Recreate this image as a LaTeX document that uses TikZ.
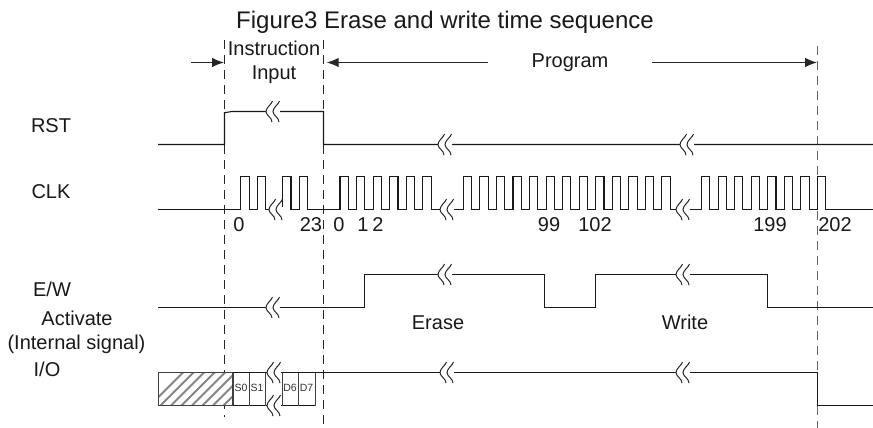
\documentclass[tikz,border=0pt]{standalone}
\usepackage{fontspec}
\setmainfont{Liberation Sans}
\usetikzlibrary{arrows.meta}
\tikzset{
  lab/.style={anchor=base,inner sep=0pt,font=\fontsize{20}{22}\selectfont,text=black!90},
  tiny/.style={anchor=base,inner sep=0pt,font=\fontsize{10.5}{12}\selectfont,text=black!80},
  wave/.style={line width=1.1pt,line join=miter,draw=black!90},
  guide/.style={line width=1.1pt,draw=black!85,dash pattern=on 9pt off 6pt},
  guideb/.style={line width=1.7pt,draw=black!60,dash pattern=on 9pt off 6pt},
  span/.style={line width=1.1pt,draw=black!85,-{Latex[length=12pt,width=9.5pt]}},
  squig/.style={line width=1pt,draw=black!85},
  cell/.style={line width=1.1pt,draw=black!75},
  hatch/.style={line width=1.8pt,draw=black!48}
}
\newcommand\brkmark[2]{%
  \fill[white] (#1-7,#2-3) rectangle (#1+7,#2+3);
  \foreach \o in {-3.5,3.5}
    \draw[squig] (#1+\o+3,#2-10.5) .. controls (#1+\o+2,#2-7) and (#1+\o-3.5,#2-4) .. (#1+\o-3.5,#2)
      .. controls (#1+\o-3.5,#2+4) and (#1+\o+2.5,#2+6) .. (#1+\o+2.5,#2+10.5);
}
\begin{document}
\begin{tikzpicture}[x=1pt,y=-1pt]
\useasboundingbox (0,0) rectangle (873,428);
\fill[white] (0,0) rectangle (873,428);

% guides
\coordinate (g1t) at (224.5,40); \coordinate (g1b) at (224.5,417);
\coordinate (g2t) at (323.5,40); \coordinate (g2b) at (323.5,428);
\coordinate (g3t) at (817.5,46); \coordinate (g3b) at (817.5,428);
\draw[guide] (g1t) -- (g1b);
\draw[guide] (g2t) -- (g2b);
\draw[guideb] (g3t) -- (g3b);

% RST
\draw[wave] (158,144.5) -- (224.5,144.5) -- (224.5,112.7) -- (232,111.5) -- (323.5,111.5) -- (323.5,144.5) -- (873,144.5);
\brkmark{273}{111.5}
\brkmark{445}{144.5}
\brkmark{687}{144.5}

% CLK
\draw[wave] (158,209.5)
  \foreach \s/\n in {240.8/2,282.7/2,340/6,463.3/13,701.5/8}{
    -- (\s,209.5)
    \foreach \k in {1,...,\n}{
      -- ({\s+16.55*(\k-1)},176.5) -- ({\s+16.55*(\k-1)+8.3},176.5) -- ({\s+16.55*(\k-1)+8.3},209.5) -- ({\s+16.55*\k},209.5)
    }
  } -- (873,209.5);
\brkmark{276}{209.5}
\brkmark{447}{209.5}
\brkmark{683}{209.5}

% E/W
\draw[wave] (158,307.5) -- (364.5,307.5) -- (364.5,274.5) -- (544.5,274.5) -- (544.5,307.5) -- (595.5,307.5)
  -- (595.5,274.5) -- (767.5,274.5) -- (767.5,307.5) -- (873,307.5);
\brkmark{273}{307.5}
\brkmark{445}{274.5}
\brkmark{683}{274.5}

% I/O
\begin{scope}
  \clip (158,372.5) rectangle (233,405.5);
  \fill[white] (158,372.5) rectangle (233,405.5);
  \foreach \i in {0,...,12}
    \draw[hatch] ({150+\i*10.5},405.5) -- ({150+\i*10.5+34},371.5);
\end{scope}
\draw[cell] (158.5,372.5) rectangle (233,405.5);
\draw[wave] (233,372.5) -- (817.5,372.5) -- (817.5,405.5) -- (873,405.5);
\draw[wave] (233,405.5) -- (315.5,405.5);
\foreach \x in {249.5,265.5,282.5,298.5,315.5}
  \draw[cell] (\x,372.5) -- (\x,405.5);
\brkmark{274}{372.5}
\brkmark{274}{405.5}
\brkmark{447}{372.5}
\brkmark{683}{372.5}

% span arrows
\coordinate (a1s) at (191,62.5); \coordinate (a1e) at (224,62.5);
\coordinate (a2s) at (488,62.5); \coordinate (a2e) at (326.7,62.5);
\coordinate (a3s) at (652,62.5); \coordinate (a3e) at (817,62.5);
\draw[span] (a1s) -- (a1e);
\draw[span] (a2s) -- (a2e);
\draw[span] (a3s) -- (a3e);

% texts
\node[lab,font=\fontsize{24}{26}\selectfont] (title) at (445,28.5) {Figure3 Erase and write time sequence};
\node[lab] (instr) at (274,56) {Instruction};
\node[lab] (inp) at (274,80) {Input};
\node[lab] (prog) at (570,68) {Program};
\node[lab] (rst) at (51,132) {RST};
\node[lab] (clk) at (51,198) {CLK};
\node[lab] (ew) at (52,296) {E/W};
\node[lab] (act) at (77,325) {Activate};
\node[lab] (ints) at (76.5,349) {(Internal signal)};
\node[lab] (io) at (47,376) {I/O};
\node[lab] (n0) at (239,231) {0};
\node[lab] (n23) at (311,231) {23};
\node[lab] (n0b) at (339,231) {0};
\node[lab] (n1) at (363,231) {1};
\node[lab] (n2) at (378,231) {2};
\node[lab] (n99) at (549,231) {99};
\node[lab] (n102) at (595,231) {102};
\node[lab] (n199) at (770,231) {199};
\node[lab] (n202) at (835,231) {202};
\node[lab] (er) at (438,329) {Erase};
\node[lab] (wr) at (685,329) {Write};
\node[tiny] (s0) at (241,391.7) {S0};
\node[tiny] (s1) at (257,391.7) {S1};
\node[tiny] (d6) at (290,391.7) {D6};
\node[tiny] (d7) at (306.5,391.7) {D7};
\end{tikzpicture}
\end{document}
